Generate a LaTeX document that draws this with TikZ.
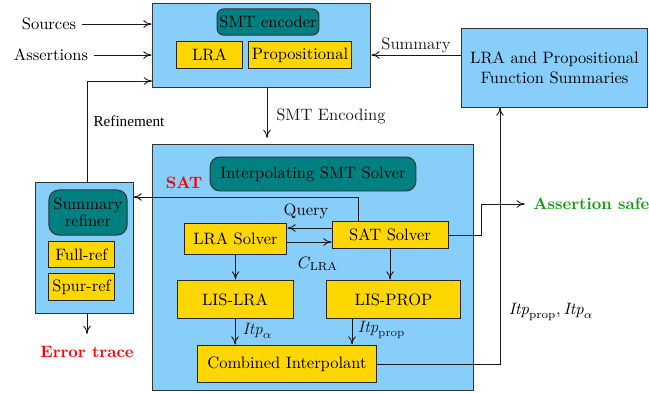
\documentclass[tikz,border=0pt]{standalone}
\usepackage{fontspec}
\usepackage{amsmath}
\usepackage{tikz}
\usetikzlibrary{arrows.meta}
\newfontfamily\reffont{Liberation Serif}

\definecolor{skyb}{RGB}{135,206,250}
\definecolor{tealc}{RGB}{0,128,128}
\definecolor{goldc}{RGB}{255,215,0}
\definecolor{safegreen}{RGB}{20,155,20}

\tikzset{
  bigbox/.style={draw=black!80, fill=skyb, semithick, inner sep=0pt},
  titlebox/.style={draw=black!80, fill=tealc, semithick, inner sep=1pt, align=center},
  partbox/.style={draw=black!85, fill=goldc, semithick, inner sep=1pt},
  flow/.style={-{To[length=5pt,width=4.6pt]}, black!90, line width=0.55pt},
}

\begin{document}
\begin{tikzpicture}[x=0.606pt,y=-0.606pt]

\useasboundingbox (0,0) rectangle (649,392);

% encoder
\node[bigbox, minimum width=132.7pt, minimum height=50.9pt] (enc) at (261.5,45) {};
\node[titlebox, rounded corners=4pt, minimum width=61.8pt, minimum height=15.8pt] (encname) at (268,22) {SMT encoder};
\node[partbox, minimum width=39.4pt, minimum height=15.8pt] (enclra) at (209.5,55) {LRA};
\node[partbox, minimum width=63pt, minimum height=15.8pt] (encprop) at (300,55) {Propositional};

% summaries
\node[bigbox, align=center, minimum width=113.3pt, minimum height=47.3pt] (summ) at (554.5,68) {LRA and Propositional\\Function Summaries};

% solver
\node[bigbox, minimum width=195.1pt, minimum height=148.5pt] (solver) at (313,267.5) {};
\node[titlebox, rounded corners=6pt, minimum width=124.8pt, minimum height=20.6pt] (solvername) at (313,174) {Interpolating SMT Solver};
\node[partbox, minimum width=62.4pt, minimum height=18.8pt] (lrasolver) at (235.5,238.5) {LRA Solver};
\node[partbox, minimum width=70.3pt, minimum height=15.8pt] (satsolver) at (390,235) {SAT Solver};
\node[partbox, minimum width=70.3pt, minimum height=23.6pt] (lislra) at (235,299.5) {LIS-LRA};
\node[partbox, minimum width=81.8pt, minimum height=23.6pt] (lisprop) at (393.5,299.5) {LIS-PROP};
\node[partbox, minimum width=109pt, minimum height=23pt] (comb) at (287,364) {Combined Interpolant};

% refiner
\node[bigbox, minimum width=58.8pt, minimum height=78.8pt] (refiner) at (84.5,248) {};
\node[titlebox, rounded corners=6pt, minimum width=47.3pt, minimum height=27.3pt] (refname) at (88,212.5) {Summary\\[-2pt]refiner};
\node[partbox, minimum width=39.4pt, minimum height=15.2pt] (fullref) at (81.5,254.5) {Full-ref};
\node[partbox, minimum width=39.4pt, minimum height=15.8pt] (spurref) at (81.5,287) {Spur-ref};

% outside labels
\node (src) at (49,24) {Sources};
\node (asrt) at (51,55) {Assertions};
\node[text=safegreen, font=\bfseries, anchor=west, inner sep=0pt] (safe) at (533,204) {Assertion safe};
\node[text=red, font=\bfseries] (err) at (87,352) {Error trace};
\node[text=red, font=\bfseries] (satlbl) at (184,183) {SAT};
\node[font=\reffont\fontsize{9.2}{11}\selectfont] (reflbl) at (129,121) {Refinement};

\coordinate (refx) at (87,0);
\coordinate (refin) at (152,81);
\coordinate (encx) at (267,0);
\coordinate (sumy) at (0,55);
\coordinate (itpx) at (500,0);
\coordinate (safex) at (481,0);
\coordinate (satx) at (358,0);
\coordinate (saty) at (0,197);
\coordinate (qy) at (0,228);
\coordinate (cy) at (0,242);
\coordinate (propx) at (352,0);

% inputs
\draw[flow] (src.east) -- (src.east -| enc.west);
\draw[flow] (asrt.east) -- (asrt.east -| enc.west);
\draw[flow] (refx |- refiner.north) |- (refin);
\draw[flow, shorten >=4pt] (encx |- enc.south) -- node[right=2pt] {SMT Encoding} (encx |- solver.north);
\draw[flow] (summ.west |- sumy) -- node[above, inner sep=1pt] {Summary} (enc.east |- sumy);

% inside the solver
\draw[flow] (satx |- satsolver.north) |- (refiner.east |- saty);
\draw[flow] (satsolver.west |- qy) -- (lrasolver.east |- qy);
\draw[flow] (lrasolver.east |- cy) -- (satsolver.west |- cy);
\node (query) at (306,211) {Query};
\node (clra) at (318,264) {$C_{\mathrm{LRA}}$};
\draw[flow] (lrasolver.south) -- (lrasolver.south |- lislra.north);
\draw[flow] (satsolver.south) -- (satsolver.south |- lisprop.north);
\draw[flow] (lislra.south) -- node[right=1pt, pos=0.45] {$\mathit{Itp}_\alpha$} (lislra.south |- comb.north);
\draw[flow] (propx |- lisprop.south) -- node[right=0pt, pos=0.4] {$\mathit{Itp}_{\mathrm{prop}}$} (propx |- comb.north);

% outputs
\draw[flow] (comb.east) -| (itpx |- summ.south);
\node (itplbl) at (551,312) {$\mathit{Itp}_{\mathrm{prop}}, \mathit{Itp}_\alpha$};
\draw[flow] (satsolver.east) -- (safex |- satsolver.east) |- ([xshift=-5pt]safe.west);
\draw[flow, shorten >=4pt] (refx |- refiner.south) -- (refx |- err.north);

\end{tikzpicture}
\end{document}
